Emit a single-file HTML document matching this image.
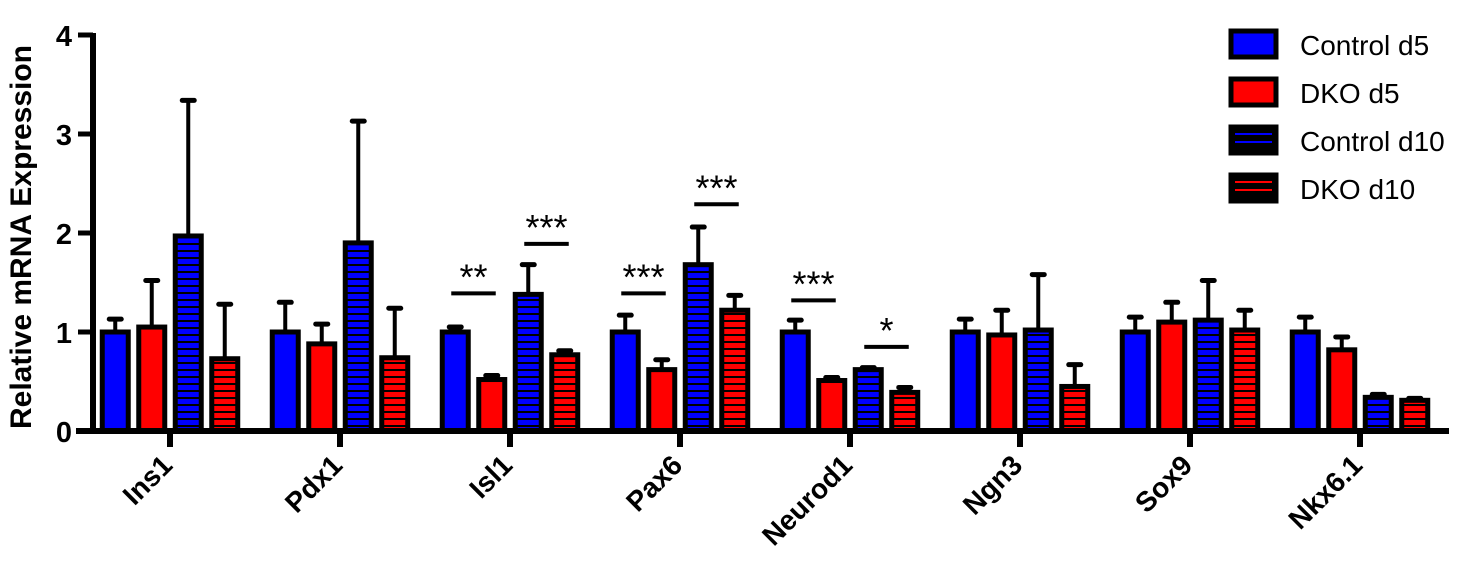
<!DOCTYPE html>
<html><head><meta charset="utf-8"><style>
html,body{margin:0;padding:0;background:#fff;}
svg{display:block;font-family:"Liberation Sans",Arial,sans-serif;}
</style></head><body>
<svg id="chart" width="1464" height="564" viewBox="0 0 1464 564" xmlns="http://www.w3.org/2000/svg">
<defs>
<pattern id="hatchBlue" width="10" height="7" patternUnits="userSpaceOnUse"><rect width="10" height="7" fill="#0000ff"/><rect y="5" width="10" height="2" fill="#000"/></pattern>
<pattern id="hatchRed" width="10" height="7" patternUnits="userSpaceOnUse"><rect width="10" height="7" fill="#ff0000"/><rect y="5" width="10" height="2" fill="#000"/></pattern>
</defs>
<g id="marks"></g>
<g id="axes"></g>
<g>
<g><rect x="1231" y="31" width="45" height="26" fill="#0000ff" stroke="#000" stroke-width="5"/><text x="1300" y="55" font-size="28">Control d5</text></g>
<g><rect x="1231" y="79" width="45" height="26" fill="#ff0000" stroke="#000" stroke-width="5"/><text x="1300" y="103" font-size="28">DKO d5</text></g>
<g><rect x="1231" y="127" width="45" height="26" fill="#000" stroke="#000" stroke-width="5"/><rect x="1235" y="133" width="37" height="2" fill="#0000ff"/><rect x="1235" y="141" width="37" height="2" fill="#0000ff"/><text x="1300" y="151" font-size="28">Control d10</text></g>
<g><rect x="1231" y="175" width="45" height="26" fill="#000" stroke="#000" stroke-width="5"/><rect x="1235" y="181" width="37" height="2" fill="#ff0000"/><rect x="1235" y="189" width="37" height="2" fill="#ff0000"/><text x="1300" y="199" font-size="28">DKO d10</text></g>
</g>
<text transform="translate(31,237) rotate(-90)" text-anchor="middle" font-size="30" font-weight="bold">Relative mRNA Expression</text>
</svg>
<script>
const categories = ["Ins1","Pdx1","Isl1","Pax6","Neurod1","Ngn3","Sox9","Nkx6.1"];
const controlD5 = [1.0,1.0,1.0,1.0,1.0,1.0,1.0,1.0];
const controlD5Err = [0.13,0.3,0.05,0.17,0.12,0.13,0.15,0.15];
const dkoD5 = [1.05,0.88,0.52,0.62,0.51,0.97,1.1,0.82];
const dkoD5Err = [0.47,0.2,0.04,0.1,0.03,0.25,0.2,0.13];
const controlD10 = [1.97,1.9,1.38,1.68,0.62,1.02,1.12,0.34];
const controlD10Err = [1.37,1.23,0.3,0.38,0.02,0.56,0.4,0.03];
const dkoD10 = [0.73,0.74,0.77,1.22,0.39,0.45,1.02,0.31];
const dkoD10Err = [0.55,0.5,0.04,0.15,0.05,0.22,0.2,0.02];
const yTicks = [0,1,2,3,4];
const sigCats = [2,2,3,3,4,4];
const sigPair = [0,1,0,1,0,1];
const sigLevel = [1.39,1.89,1.39,2.29,1.32,0.85];
const sigLabels = ["**","***","***","***","***","*"];

const NS="http://www.w3.org/2000/svg";
const y0=431, yScale=99;
const y = v => y0 - v*yScale;
const xCat = i => 170 + i*170;
const barW=26, barStep=36.5;
const xBar = (i,s) => xCat(i) + (s-1.5)*barStep;
const series=[
 {v:controlD5,e:controlD5Err,fill:"#0000ff",n:"control-d5"},
 {v:dkoD5,e:dkoD5Err,fill:"#ff0000",n:"dko-d5"},
 {v:controlD10,e:controlD10Err,fill:"url(#hatchBlue)",n:"control-d10"},
 {v:dkoD10,e:dkoD10Err,fill:"url(#hatchRed)",n:"dko-d10"}];
const marks=document.getElementById('marks'), axes=document.getElementById('axes');
function mk(tag,attrs,parent){const el=document.createElementNS(NS,tag);for(const k in attrs)el.setAttribute(k,attrs[k]);parent.appendChild(el);return el;}
series.forEach((s,si)=>{
 categories.forEach((c,i)=>{
  const cx=xBar(i,si), top=y(s.v[i]), et=y(s.v[i]+s.e[i]);
  const eb=mk('line',{x1:cx,x2:cx,y1:top,y2:et,stroke:"#000","stroke-width":4},marks);
  
  
  const cap=mk('line',{x1:cx-6,x2:cx+6,y1:et,y2:et,stroke:"#000","stroke-width":5,"stroke-linecap":"round"},marks);
  
  
  const r=mk('rect',{x:cx-barW/2,y:top,width:barW,height:y0-top,fill:s.fill,stroke:"#000","stroke-width":5},marks);
  
  
 });
});
sigCats.forEach((ci,k)=>{
 const a=xBar(ci,sigPair[k]*2), b=xBar(ci,sigPair[k]*2+1), yy=y(sigLevel[k]);
 const l=mk('line',{x1:a-4,x2:b+4,y1:yy,y2:yy,stroke:"#000","stroke-width":4},marks);
 
 
 const t=mk('text',{x:(a+b)/2,y:yy-4,"text-anchor":"middle","font-size":36},marks);
 t.textContent=sigLabels[k];
 
 
});
const ya=mk('line',{x1:93,x2:93,y1:y(4)-2,y2:y0+3,stroke:"#000","stroke-width":6},axes);


const xa=mk('line',{x1:76,x2:1449,y1:y0,y2:y0,stroke:"#000","stroke-width":6},axes);


yTicks.forEach(v=>{
 const tk=mk('line',{x1:78,x2:93,y1:y(v),y2:y(v),stroke:"#000","stroke-width":5},axes);
 
 
 const t=mk('text',{x:72,y:y(v)+11,"text-anchor":"end","font-size":29,"font-weight":"bold"},axes);
 t.textContent=v;
 
 
});
categories.forEach((c,i)=>{
 const x=xCat(i);
 const tk=mk('line',{x1:x,x2:x,y1:y0,y2:y0+16,stroke:"#000","stroke-width":6},axes);
 
 
 const t=mk('text',{transform:`translate(${x+4},${y0+36}) rotate(-45)`,"text-anchor":"end","font-size":28,"font-weight":"bold"},axes);
 t.textContent=c;
 
 
});
</script>
</body></html>
